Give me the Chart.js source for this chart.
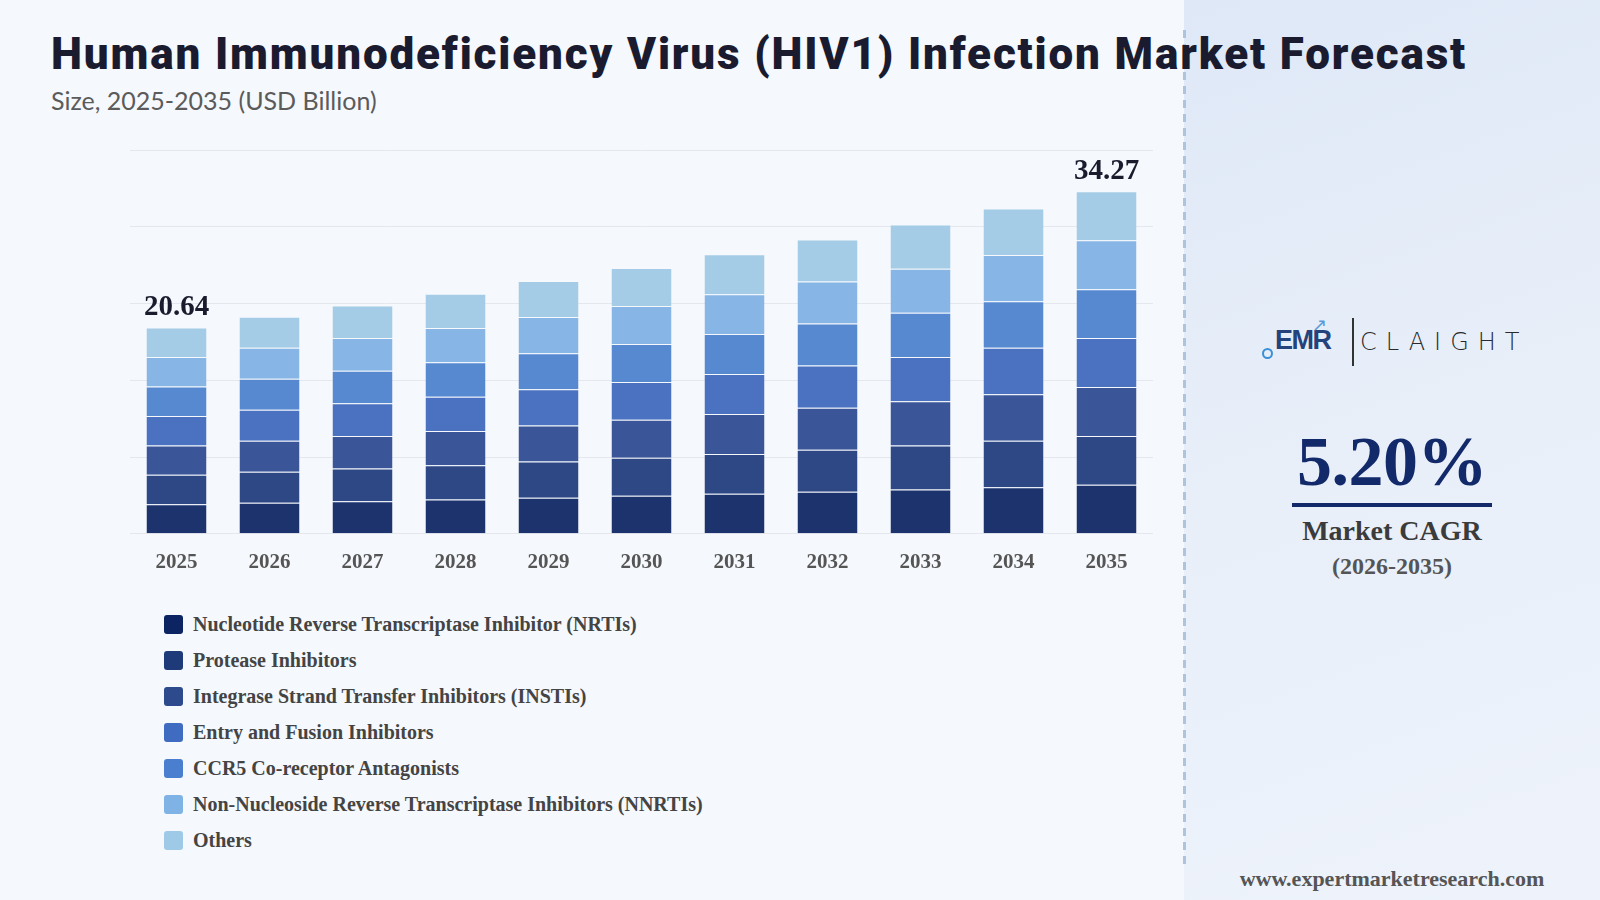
<!DOCTYPE html>
<html>
<head>
<meta charset="utf-8">
<script src="https://cdn.jsdelivr.net/npm/chart.js@4.4.1/dist/chart.umd.min.js"></script>
<style>
    html, body { margin: 0; padding: 0; }
    body { width: 1600px; height: 900px; background: #f5f8fc; position: relative; overflow: hidden; font-family: "Liberation Serif", serif; }
    .titre { position: absolute; left: 51px; top: 28px; font-family: Roboto, sans-serif; font-weight: 900; font-size: 44px; color: #1b1b30; white-space: nowrap; }
    .sous-titre { position: absolute; left: 51px; top: 85px; font-family: Lato, sans-serif; font-size: 25px; color: #5b5b5b; }
    .panneau { position: absolute; left: 1184px; top: 0; width: 416px; height: 900px; background: linear-gradient(160deg, #dfe8f7 0%, #e8eff9 50%, #eef3fb 100%); }
    .pointilles { position: absolute; left: 1183px; top: 30px; width: 3px; height: 835px; background: repeating-linear-gradient(to bottom, #aec4dc 0 8px, transparent 8px 14px); }
    .zone-graph { position: absolute; left: 0; top: 120px; width: 1180px; height: 470px; }
    .legende { position: absolute; left: 164px; top: 606px; }
    .legende div { display: flex; align-items: center; height: 36px; font-weight: bold; font-size: 20px; color: #444; }
    .legende span { display: inline-block; width: 19px; height: 19px; border-radius: 3px; margin-right: 10px; }
    .logo { position: absolute; left: 1262px; top: 318px; height: 48px; width: 280px; }
    .emr { position: absolute; left: 13px; top: 7px; font-family: "Liberation Sans", sans-serif; font-weight: bold; font-size: 27px; color: #24427c; letter-spacing: -1.5px; }
    .rond { position: absolute; left: 0; top: 30px; width: 7px; height: 7px; border: 2px solid #3a8fd6; border-radius: 50%; }
    .fleche { position: absolute; left: 50px; top: -4px; font-family: "DejaVu Sans", sans-serif; font-size: 18px; color: #5a9ad8; }
    .barre { position: absolute; left: 90px; top: 0; width: 2px; height: 48px; background: #333; }
    .claight { position: absolute; left: 98px; top: 10px; font-family: "DejaVu Sans", sans-serif; font-weight: 300; font-size: 24px; color: #2a2a2a; letter-spacing: 9px; }
    .cagr { position: absolute; left: 1184px; width: 416px; text-align: center; font-weight: bold; }
    .cagr-val { top: 422px; font-size: 70px; color: #12296a; letter-spacing: -0.5px; }
    .trait { position: absolute; left: 1292px; top: 503px; width: 200px; height: 4px; background: #12296a; }
    .cagr-lib { top: 515px; font-size: 28px; color: #3b3b3b; }
    .cagr-per { top: 553px; font-size: 24px; color: #555; }
    .site { top: 866px; font-size: 22px; color: #555; }
</style>
</head>
<body>
<div class="panneau"></div>
<div class="pointilles"></div>
<div class="titre" id="titre">Human Immunodeficiency Virus (HIV1) Infection Market Forecast</div>
<div class="sous-titre">Size, 2025-2035 (USD Billion)</div>
<div class="zone-graph"><canvas id="graphique-marche"></canvas></div>
<div class="legende" id="legende"></div>

<div class="logo">
    <div class="rond"></div>
    <div class="emr">EMR</div>
    <div class="fleche">&#8599;</div>
    <div class="barre"></div>
    <div class="claight">CLAIGHT</div>
</div>
<div class="cagr cagr-val">5.20%</div>
<div class="trait"></div>
<div class="cagr cagr-lib">Market CAGR</div>
<div class="cagr cagr-per">(2026-2035)</div>
<div class="cagr site">www.expertmarketresearch.com</div>

<script>
// années (axe x)
const annees = ["2025", "2026", "2027", "2028", "2029", "2030", "2031", "2032", "2033", "2034", "2035"];

// totaux (étiquettes au dessus des barres)
const totaux = [20.64, 21.71, 22.84, 24.02, 25.30, 26.60, 27.97, 29.45, 30.95, 32.56, 34.27];
// on n'affiche que la premiere et la derniere valeur
const etiquettesAffichees = [0, 10];

// valeurs des segments (du bas vers le haut)
const nrtis    = [2.949, 3.101, 3.263, 3.431, 3.614, 3.800, 3.996, 4.207, 4.421, 4.651, 4.896];
const protease = [2.949, 3.101, 3.263, 3.431, 3.614, 3.800, 3.996, 4.207, 4.421, 4.651, 4.896];
const instis   = [2.949, 3.101, 3.263, 3.431, 3.614, 3.800, 3.996, 4.207, 4.421, 4.651, 4.896];
const entree   = [2.949, 3.101, 3.263, 3.431, 3.614, 3.800, 3.996, 4.207, 4.421, 4.651, 4.896];
const ccr5     = [2.949, 3.101, 3.263, 3.431, 3.614, 3.800, 3.996, 4.207, 4.421, 4.651, 4.896];
const nnrtis   = [2.949, 3.101, 3.263, 3.431, 3.614, 3.800, 3.996, 4.207, 4.421, 4.651, 4.896];
const autres   = [2.949, 3.101, 3.263, 3.431, 3.614, 3.800, 3.996, 4.207, 4.421, 4.651, 4.896];

const segments = [
    "Nucleotide Reverse Transcriptase Inhibitor (NRTIs)",
    "Protease Inhibitors",
    "Integrase Strand Transfer Inhibitors (INSTIs)",
    "Entry and Fusion Inhibitors",
    "CCR5 Co-receptor Antagonists",
    "Non-Nucleoside Reverse Transcriptase Inhibitors (NNRTIs)",
    "Others"
];
const valeurs = [nrtis, protease, instis, entree, ccr5, nnrtis, autres];
const couleursBarres = ["#1c336e", "#2e4785", "#3a5698", "#4a72c0", "#5689d0", "#86b5e6", "#a5cce6"];
const couleursLegende = ["#0c2461", "#1e3a78", "#2c4a8c", "#3f6cc0", "#4a7fd0", "#7fb3e5", "#9ecae7"];

// le titre doit occuper ~1416px de large comme sur l'original
const titre = document.querySelector("#titre");
const largeurTitre = titre.getBoundingClientRect().width;
const nbCar = titre.textContent.length;
titre.style.letterSpacing = ((1416 - largeurTitre) / nbCar) + "px";

// legende en html, une ligne par segment
const legende = document.querySelector("#legende");
for (let i = 0; i < segments.length; i++) {
    legende.innerHTML += `<div><span style="background:${couleursLegende[i]}"></span>${segments[i]}</div>`;
}

// plugin pour écrire le total au dessus de certaines barres
const pluginTotaux = {
    id: "totaux",
    afterDatasetsDraw(chart) {
        const ctx = chart.ctx;
        const meta = chart.getDatasetMeta(chart.data.datasets.length - 1);
        ctx.save();
        ctx.font = "bold 29px 'Liberation Serif'";
        ctx.fillStyle = "#1b1b2e";
        ctx.textAlign = "center";
        ctx.textBaseline = "alphabetic";
        for (let i of etiquettesAffichees) {
            const barre = meta.data[i];
            ctx.fillText(totaux[i].toFixed(2), barre.x, barre.y - 12);
        }
        ctx.restore();
    }
};

const data = {
    labels: annees,
    datasets: valeurs.map((v, i) => ({
        label: segments[i],
        data: v,
        backgroundColor: couleursBarres[i],
        borderColor: "rgba(255,255,255,0.1)",
        borderWidth: { top: 1, bottom: 0, left: 0, right: 0 },
        borderSkipped: false,
        barPercentage: 0.645,
        categoryPercentage: 1
    }))
};

const config = {
    type: "bar",
    data: data,
    options: {
        responsive: true,
        maintainAspectRatio: false,
        animation: false,
        layout: { padding: { left: 130, right: 27, top: 30, bottom: 7 } },
        plugins: {
            legend: { display: false },
            tooltip: { enabled: false }
        },
        scales: {
            x: {
                stacked: true,
                grid: { display: false },
                border: { display: false },
                ticks: {
                    color: "#555",
                    font: { family: "'Liberation Serif'", weight: "bold", size: 21 },
                    padding: 8
                }
            },
            y: {
                stacked: true,
                min: 0,
                max: 38.4,
                grid: { color: "#e4e8ee", lineWidth: 1, drawTicks: false },
                border: { display: false },
                ticks: { display: false, count: 6 }
            }
        }
    },
    plugins: [pluginTotaux]
};

new Chart(document.querySelector("#graphique-marche"), config);
</script>
</body>
</html>
